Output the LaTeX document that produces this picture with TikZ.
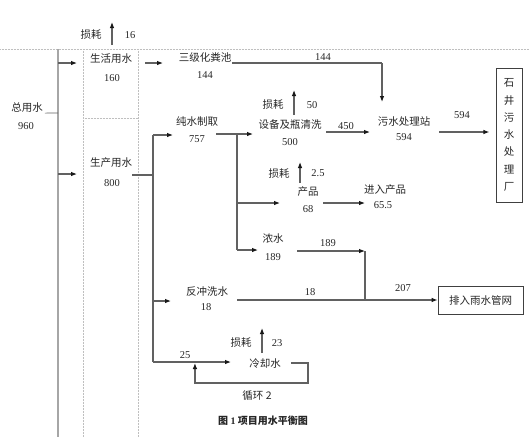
\documentclass[tikz,border=0pt]{standalone}
\usepackage{fontspec}
\setmainfont{Liberation Serif}
\newfontfamily\cjk{Noto Sans CJK SC}
\usetikzlibrary{calc,arrows.meta}

\begin{document}
\begin{tikzpicture}[
  x=1pt,y=-1pt,
  >={Latex[length=6pt,width=4.6pt,color=black!90]},
  lab/.style={font=\cjk\fontsize{10.5}{12}\selectfont, inner sep=0pt, text=black!85},
  qty/.style={font=\fontsize{10.5}{12}\selectfont, inner sep=0pt, text=black!85},
  flow/.style={->, line width=1.1pt, draw=black!62},
  pipe/.style={line width=1.1pt, draw=black!62},
  trunk/.style={line width=1.8pt, draw=black!35},
  cell/.style={densely dotted, line width=0.5pt, draw=black!25},
  outbox/.style={draw=black!75, line width=0.7pt, inner sep=0pt}
]
\useasboundingbox (0,0) rectangle (529,437);

% Page table rules
\draw[cell] (0,49) -- (529,49);
\draw[cell] (83,49) -- (83,437);
\draw[cell] (138,49) -- (138,437);
\draw[cell] (83,118) -- (138,118);

% Main supply line
\coordinate (T0) at (58,49);
\coordinate (T1) at (58,437);
\coordinate (Ttot) at (58,113);
\coordinate (Tlife) at (58,63);
\coordinate (Tprod) at (58,174);
\draw[trunk] (T0) -- (T1);

% Water users
\node[lab] (total) at (27,108) {总用水};
\node[qty] (totalq) at (26,126) {960};
\node[lab] (life) at (111,59) {生活用水};
\node[qty] (lifeq) at (112,78) {160};
\node[lab] (prod) at (111,163) {生产用水};
\node[qty] (prodq) at (112,183) {800};
\node[lab] (septic) at (205,58) {三级化粪池};
\node[qty] (septicq) at (205,75) {144};
\node[lab] (pure) at (197,122) {纯水制取};
\node[qty] (pureq) at (197,139) {757};
\node[lab] (wash) at (290,125) {设备及瓶清洗};
\node[qty] (washq) at (290,142) {500};
\node[lab] (station) at (404,122) {污水处理站};
\node[qty] (stationq) at (404,137) {594};
\node[lab] (product) at (308,192) {产品};
\node[qty] (productq) at (308,209) {68};
\node[lab] (intoprod) at (385,190) {进入产品};
\node[qty] (intoprodq) at (383,205) {65.5};
\node[lab] (conc) at (273,239) {浓水};
\node[qty] (concq) at (273,257) {189};
\node[lab] (backwash) at (207,292) {反冲洗水};
\node[qty] (backwashq) at (206,307) {18};
\node[lab] (cool) at (265,363) {冷却水};

% Receivers
\node[outbox, minimum width=26pt, minimum height=134pt, align=center,
      font=\cjk\fontsize{10.5}{17.3}\selectfont, text=black!85] (plant) at (509,135)
      {石\\井\\污\\水\\处\\理\\厂};
\node[outbox, lab, minimum width=85pt, minimum height=28pt] (rain) at (480.5,300) {排入雨水管网};

% Losses
\node[lab] (lifeloss) at (91,35) {损耗};
\node[qty] (lifelossq) at (130,35) {16};
\node[lab] (washloss) at (273,105) {损耗};
\node[qty] (washlossq) at (312,105) {50};
\node[lab] (prodloss) at (279,174) {损耗};
\node[qty] (prodlossq) at (318,173) {2.5};
\node[lab] (coolloss) at (241,343) {损耗};
\node[qty] (coollossq) at (277,343) {23};

% Flow labels
\node[qty] (f144) at (323,57) {144};
\node[qty] (f594) at (462,115) {594};
\node[qty] (f450) at (346,126) {450};
\node[qty] (f189) at (328,243) {189};
\node[qty] (f18) at (310,292) {18};
\node[qty] (f207) at (403,288) {207};
\node[qty] (f25) at (185,355) {25};
\node[lab] (loop) at (257,396) {循环 2};
\node[lab, font=\cjk\bfseries\fontsize{10}{12}\selectfont] (cap) at (263,421) {图\ {\rmfamily\bfseries 1}\ 项目用水平衡图};

% Junctions
\coordinate (Psplit) at (153,175);
\coordinate (Ptop) at (153,135);
\coordinate (Pbot) at (153,362);
\coordinate (Wsplit) at (237,134);
\coordinate (Wbot) at (237,250);
\coordinate (Sdrop) at (382,63);
\coordinate (Cdrop) at (365,251);
\coordinate (Cjoin) at (365,300);

% Domestic branch
\draw[pipe, line width=0.6pt] ($(total.south east)+(2,0)$) -- (Ttot);
\draw[flow] (Tlife) -- ++(19,0);
\draw[flow] (112,45) -- ++(0,-23);
\draw[flow] (145,63) -- ++(18,0);
\draw[pipe] ($(septic.east)+(1,5)$) -- (Sdrop);
\draw[flow] (Sdrop) -- ++(0,39);
\draw[flow] ($(station.east)+(9,10)$) -- ++(50,0);

% Production branch
\draw[flow] (Tprod) -- ++(19,0);
\draw[pipe] ($(prod.east)+(0,12)$) -- (Psplit);
\draw[pipe] (Ptop) -- (Pbot);
\draw[flow] (Ptop) -- ++(20,0);
\draw[flow] (153,301) -- ++(18,0);
\draw[flow] (Pbot) -- ++(78,0);

% Pure water
\draw[flow] ($(pure.east)+(-2,12)$) -- (253,134);
\draw[pipe] (Wsplit) -- (Wbot);
\draw[flow] (237,203) -- ++(43,0);
\draw[flow] (Wbot) -- ++(21,0);
\draw[flow] (294,115) -- ++(0,-25);
\draw[flow] (326,132) -- ++(44,0);
\draw[flow] (300,183) -- ++(0,-21);
\draw[flow] (323,203) -- ++(42,0);

% Concentrate and backwash to storm drain
\draw[flow] (297,251) -- (Cdrop);
\draw[pipe] (Cdrop) -- (Cjoin);
\draw[flow] (237,300) -- (rain.west);

% Cooling water
\draw[flow] (262,353) -- ++(0,-25);
\draw[flow] ($(cool.east)+(10,0)$) -- ++(17,0) -- ++(0,20) -- ++(-113,0) -- ++(0,-20);

\end{tikzpicture}
\end{document}
